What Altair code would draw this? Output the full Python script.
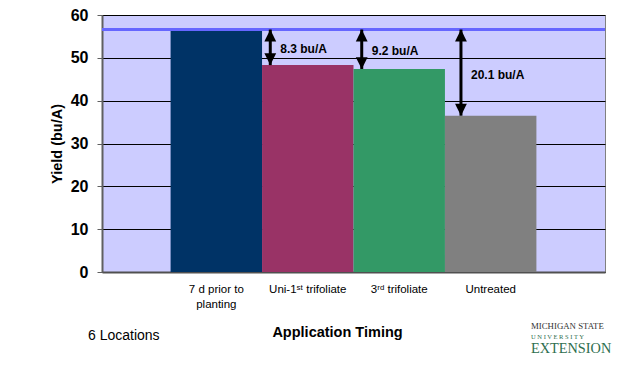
import altair as alt
import pandas as pd

categories = ["7 d prior to|planting", "Uni-1ˢᵗ trifoliate", "3ʳᵈ trifoliate", "Untreated"]
yields = [56.6, 48.3, 47.4, 36.5]
bar_colors = ["#003366", "#993366", "#339966", "#808080"]
diff_cats = ["Uni-1ˢᵗ trifoliate", "3ʳᵈ trifoliate", "Untreated"]
diff_labels = ["8.3 bu/A", "9.2 bu/A", "20.1 bu/A"]
y_ticks = [0, 10, 20, 30, 40, 50, 60]

FONT = "Liberation Sans"

bars_df = pd.DataFrame({"cat": categories, "yield": yields, "color": bar_colors})
ref_val = yields[0]
diff_df = pd.DataFrame({
    "cat": diff_cats,
    "lo": [yields[categories.index(c)] for c in diff_cats],
    "label": diff_labels,
})
diff_df["hi"] = ref_val
diff_df["mid"] = (diff_df["hi"] + diff_df["lo"]) / 2

xscale = alt.Scale(domain=categories, paddingInner=0, paddingOuter=0.75)
yscale = alt.Scale(domain=[0, 60])

xaxis = alt.Axis(
    title="Application Timing", labelExpr="split(datum.label, '|')",
    labelAngle=0, labelFont=FONT, labelFontSize=11.5, labelColor="#000",
    labelPadding=11, labelBaseline="top", labelLineHeight=15,
    ticks=False, domain=True, domainColor="#505050", domainWidth=2,
    titleFont=FONT, titleFontSize=14.5, titleFontWeight="bold", titleColor="#000",
    titleX=235, titleY=60, titleAlign="center", titleBaseline="middle",
)
yaxis = alt.Axis(
    title="Yield (bu/A)", values=y_ticks, grid=True, gridColor="#000", gridWidth=1,
    tickColor="#606060", tickSize=5, domainColor="#606060", domainWidth=2,
    labelFont=FONT, labelFontSize=16, labelFontWeight="bold", labelColor="#000",
    labelPadding=9,
    titleFont=FONT, titleFontSize=14.5, titleFontWeight="bold", titleColor="#000",
    titleX=-45, titleY=128.5, titleAngle=-90, titleAlign="center", titleBaseline="middle",
)

base = alt.Chart(bars_df)
bars = base.mark_bar(opacity=1).encode(
    x=alt.X("cat:N", scale=xscale, axis=xaxis, sort=categories),
    y=alt.Y("yield:Q", scale=yscale, axis=yaxis),
    color=alt.Color("color:N", scale=None),
)

ref_line = alt.Chart(pd.DataFrame({"v": [ref_val]})).mark_rule(
    color="#6666ff", strokeWidth=3
).encode(y=alt.Y("v:Q", scale=yscale))

def arrows(cats, band_pos):
    d = alt.Chart(diff_df).transform_filter(
        alt.FieldOneOfPredicate(field="cat", oneOf=cats)
    )
    xenc = alt.X("cat:N", scale=xscale, bandPosition=band_pos, sort=categories)
    shaft = d.mark_rule(color="#000", strokeWidth=3).encode(
        x=xenc, y=alt.Y("hi:Q", scale=yscale), y2="lo:Q"
    )
    head_up = d.mark_point(
        shape="M0,0 L-0.5,1 L0.5,1 Z", filled=True, color="#000", opacity=1, size=560
    ).encode(x=xenc, y=alt.Y("hi:Q", scale=yscale))
    head_dn = d.mark_point(
        shape="M0,0 L-0.5,-1 L0.5,-1 Z", filled=True, color="#000", opacity=1, size=560
    ).encode(x=xenc, y=alt.Y("lo:Q", scale=yscale))
    txt = d.mark_text(
        align="left", baseline="middle", dx=10, dy=2, font=FONT, fontSize=12,
        fontWeight="bold", color="#000"
    ).encode(x=xenc, y=alt.Y("mid:Q", scale=yscale), text="label:N")
    return [shaft, head_up, head_dn, txt]

arrow_layers = arrows(diff_cats[:2], 0.09) + arrows(diff_cats[2:], 0.175)

def note(text, x, y, **kw):
    return alt.Chart(pd.DataFrame({"t": [text]})).mark_text(**kw).encode(
        x=alt.value(x), y=alt.value(y), text="t:N"
    )

locations = note("6 Locations", -14, 321, align="left", baseline="middle",
                 font=FONT, fontSize=14, color="#000")
logo1 = note("MICHIGAN STATE", 429, 311, align="left", baseline="middle",
             font="Liberation Serif", fontSize=8.8, color="#333333")
logo2 = note("U N I V E R S I T Y", 429, 322, align="left", baseline="middle",
             font="Liberation Serif", fontSize=6.5, color="#2e6e4e")
logo3 = note("EXTENSION", 429, 334, align="left", baseline="middle",
             font="Liberation Serif", fontSize=14.3, color="#2e6e4e")

chart = alt.layer(
    bars, ref_line, *arrow_layers, locations, logo1, logo2, logo3
).properties(
    width=503, height=257,
    autosize=alt.AutoSizeParams(type="none"),
    padding={"left": 102, "top": 15, "right": 39, "bottom": 105},
    background="white",
).configure_view(
    fill="#ccccff", stroke="#808080", strokeWidth=1
)

chart.save("out.html", embed_options={"renderer": "svg", "actions": False})
